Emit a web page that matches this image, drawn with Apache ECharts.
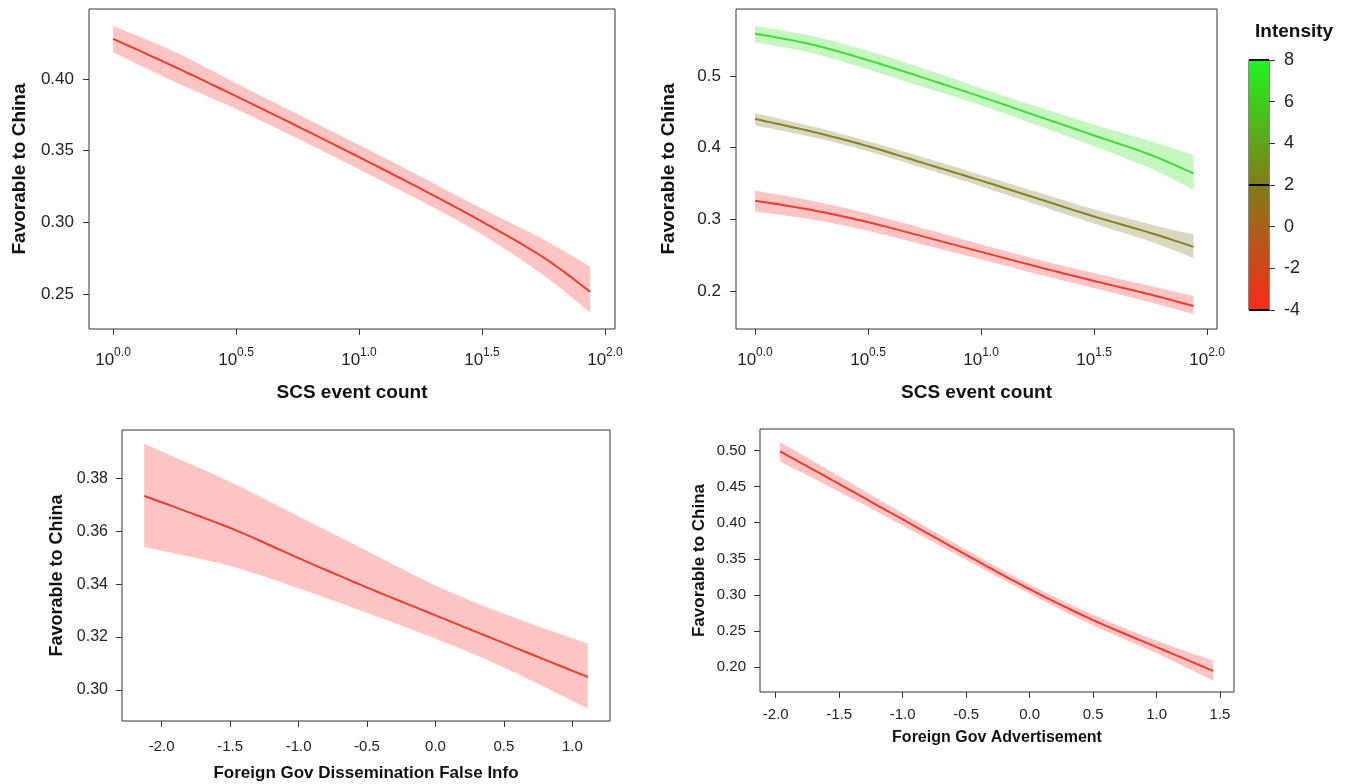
<!DOCTYPE html>
<html>
<head>
<meta charset="utf-8">
<script src="https://cdn.jsdelivr.net/npm/echarts@6/dist/echarts.min.js"></script>
<style>
  html, body { margin: 0; padding: 0; background: #fff; }
  #main { width: 1349px; height: 784px; }
</style>
</head>
<body>
<div id="main"></div>
<script>
// 上排：x 为 log10(SCS event count)
var scsLogX = [0, 0.25, 0.5, 0.75, 1.0, 1.25, 1.5, 1.75, 1.94];
var p1Fit   = [0.428, 0.4085, 0.388, 0.367, 0.3455, 0.3235, 0.3005, 0.2755, 0.2515];
var p1Upper = [0.437, 0.419, 0.397, 0.3755, 0.354, 0.332, 0.3095, 0.288, 0.269];
var p1Lower = [0.4186, 0.398, 0.379, 0.3585, 0.337, 0.315, 0.2915, 0.263, 0.237];

// 右上：三个 Intensity 水平
var intensityLevels = [8, 2, -4];
var greenFit   = [0.559, 0.544, 0.522, 0.497, 0.471, 0.444, 0.417, 0.390, 0.364];
var greenUpper = [0.570, 0.556, 0.535, 0.510, 0.483, 0.457, 0.432, 0.409, 0.390];
var greenLower = [0.547, 0.532, 0.509, 0.484, 0.459, 0.431, 0.402, 0.371, 0.341];
var oliveFit   = [0.440, 0.4225, 0.402, 0.378, 0.354, 0.329, 0.304, 0.281, 0.2616];
var oliveUpper = [0.448, 0.430, 0.409, 0.386, 0.362, 0.338, 0.314, 0.293, 0.279];
var oliveLower = [0.431, 0.415, 0.395, 0.371, 0.346, 0.320, 0.294, 0.269, 0.246];
var redFit   = [0.326, 0.313, 0.296, 0.2755, 0.2546, 0.2338, 0.214, 0.195, 0.179];
var redUpper = [0.340, 0.326, 0.308, 0.287, 0.265, 0.244, 0.225, 0.207, 0.193];
var redLower = [0.311, 0.300, 0.284, 0.264, 0.244, 0.2235, 0.204, 0.184, 0.168];

// 左下：Foreign Gov Dissemination False Info
var dissX     = [-2.128, -1.5, -1.0, -0.5, 0.0, 0.5, 1.113];
var dissFit   = [0.3733, 0.3612, 0.3498, 0.3387, 0.3282, 0.3177, 0.3049];
var dissUpper = [0.393, 0.3786, 0.3656, 0.3525, 0.3395, 0.3288, 0.3175];
var dissLower = [0.354, 0.3468, 0.3384, 0.3291, 0.3194, 0.3085, 0.293];

// 右下：Foreign Gov Advertisement
var advX     = [-1.967, -1.5, -1.0, -0.5, 0.0, 0.5, 1.0, 1.446];
var advFit   = [0.499, 0.4537, 0.4046, 0.3555, 0.3078, 0.265, 0.2276, 0.1945];
var advUpper = [0.512, 0.4645, 0.413, 0.3625, 0.3145, 0.2725, 0.2365, 0.209];
var advLower = [0.485, 0.443, 0.396, 0.3485, 0.3015, 0.2575, 0.219, 0.181];

// 刻度
var scsTicks  = [0, 0.5, 1.0, 1.5, 2.0];
var p1YTicks  = [0.25, 0.30, 0.35, 0.40];
var p2YTicks  = [0.2, 0.3, 0.4, 0.5];
var dissXTicks = [-2.0, -1.5, -1.0, -0.5, 0.0, 0.5, 1.0];
var dissYTicks = [0.30, 0.32, 0.34, 0.36, 0.38];
var advXTicks = [-2.0, -1.5, -1.0, -0.5, 0.0, 0.5, 1.0, 1.5];
var advYTicks = [0.20, 0.25, 0.30, 0.35, 0.40, 0.45, 0.50];

var FONT = 'Liberation Sans, Arial, sans-serif';
var INK = '#333';

// Catmull-Rom 插值（像素坐标），让曲线平滑
function spline(pts, n) {
    var out = [];
    for (var i = 0; i < pts.length - 1; i++) {
        var p0 = pts[Math.max(i - 1, 0)], p1 = pts[i], p2 = pts[i + 1], p3 = pts[Math.min(i + 2, pts.length - 1)];
        for (var k = 0; k < n; k++) {
            var t = k / n, t2 = t * t, t3 = t2 * t;
            out.push([0, 1].map(function (d) {
                return 0.5 * ((2 * p1[d]) + (-p0[d] + p2[d]) * t +
                    (2 * p0[d] - 5 * p1[d] + 4 * p2[d] - p3[d]) * t2 +
                    (-p0[d] + 3 * p1[d] - 3 * p2[d] + p3[d]) * t3);
            }));
        }
    }
    out.push(pts[pts.length - 1]);
    return out;
}

// 置信带 + 拟合线，都走坐标轴换算
function band(gi, xs, lo, hi, fit, lineColor, bandColor) {
    function edge(api, ys) {
        return spline(xs.map(function (x, i) { return api.coord([x, ys[i]]); }), 12);
    }
    return [{
        type: 'custom', xAxisIndex: gi, yAxisIndex: gi, silent: true, z: 1,
        data: [0],
        renderItem: function (params, api) {
            var pts = edge(api, hi).concat(edge(api, lo).reverse());
            return { type: 'polygon', shape: { points: pts }, style: { fill: bandColor } };
        }
    }, {
        type: 'custom', xAxisIndex: gi, yAxisIndex: gi, silent: true, z: 3,
        data: [0],
        renderItem: function (params, api) {
            return {
                type: 'polyline', shape: { points: edge(api, fit) },
                style: { stroke: lineColor, lineWidth: 2, fill: null }
            };
        }
    }];
}

function xAx(gi, min, max, ticks, fmt, fs, margin, name, nameSize, nameGap) {
    return {
        type: 'value', gridIndex: gi, min: min, max: max,
        axisLine: { show: false, onZero: false },
        splitLine: { show: false },
        axisTick: { show: true, length: 6, customValues: ticks, lineStyle: { color: INK } },
        axisLabel: {
            customValues: ticks, formatter: fmt, margin: margin,
            color: '#222', fontFamily: FONT, fontSize: fs,
            rich: {
                b: { fontSize: 17, fontFamily: FONT, color: '#222', verticalAlign: 'bottom', lineHeight: 22 },
                s: { fontSize: 12, fontFamily: FONT, color: '#222', verticalAlign: 'top', lineHeight: 22 }
            }
        },
        name: name, nameLocation: 'middle', nameGap: nameGap,
        nameTextStyle: { fontFamily: FONT, fontWeight: 'bold', fontSize: nameSize, color: '#111' }
    };
}

function yAx(gi, min, max, ticks, digits, fs, margin, nameSize, nameGap) {
    return {
        type: 'value', gridIndex: gi, min: min, max: max,
        axisLine: { show: false, onZero: false },
        splitLine: { show: false },
        axisTick: { show: true, length: 6, customValues: ticks, lineStyle: { color: INK } },
        axisLabel: {
            customValues: ticks, margin: margin, color: '#222', fontFamily: FONT, fontSize: fs,
            formatter: function (v) { return v.toFixed(digits); }
        },
        name: 'Favorable to China', nameLocation: 'middle', nameGap: nameGap,
        nameTextStyle: { fontFamily: FONT, fontWeight: 'bold', fontSize: nameSize, color: '#111' }
    };
}

var powFmt = function (v) { return '{b|10}{s|' + v.toFixed(1) + '}'; };
var decFmt = function (v) { return v.toFixed(1); };

var gridStyle = { show: true, borderColor: INK, borderWidth: 1, backgroundColor: 'transparent' };

var chart = echarts.init(document.getElementById('main'), null, { renderer: 'canvas' });
chart.setOption({
    animation: false,
    title: {
        text: 'Intensity', left: 1250, top: 17,
        textStyle: { fontFamily: FONT, fontWeight: 'bold', fontSize: 19, color: '#111' }
    },
    grid: [
        Object.assign({ left: 89, top: 9, width: 526, height: 320 }, gridStyle),
        Object.assign({ left: 736, top: 9, width: 481, height: 320 }, gridStyle),
        Object.assign({ left: 122, top: 430, width: 488, height: 291 }, gridStyle),
        Object.assign({ left: 760, top: 429, width: 474, height: 263 }, gridStyle),
        { show: true, left: 1249, top: 60, width: 20, height: 250, borderColor: '#111', borderWidth: 1, backgroundColor: 'transparent' }
    ],
    xAxis: [
        xAx(0, -0.0976, 2.0407, scsTicks, powFmt, 17, 18, 'SCS event count', 19, 54),
        xAx(1, -0.084, 2.044, scsTicks, powFmt, 17, 18, 'SCS event count', 19, 54),
        xAx(2, -2.29, 1.275, dissXTicks, decFmt, 15, 18, 'Foreign Gov Dissemination False Info', 17, 44),
        xAx(3, -2.124, 1.61, advXTicks, decFmt, 15, 15, 'Foreign Gov Advertisement', 16, 38),
        { type: 'value', gridIndex: 4, min: 0, max: 1, show: false }
    ],
    yAxis: [
        yAx(0, 0.2256, 0.4488, p1YTicks, 2, 17, 15, 19, 60),
        yAx(1, 0.147, 0.5934, p2YTicks, 1, 17, 15, 19, 58),
        yAx(2, 0.2883, 0.3982, dissYTicks, 2, 16, 14, 18, 56),
        yAx(3, 0.1653, 0.530, advYTicks, 2, 15, 14, 17, 52),
        {
            type: 'value', gridIndex: 4, min: -4, max: 8, interval: 2, position: 'right',
            axisLine: { show: false, onZero: false }, splitLine: { show: false },
            axisTick: { show: true, length: 6, lineStyle: { color: INK } },
            axisLabel: { margin: 15, color: '#222', fontFamily: FONT, fontSize: 18 }
        }
    ],
    series: [].concat(
        band(0, scsLogX, p1Lower, p1Upper, p1Fit, '#f03a2e', '#ffc4c4'),
        band(1, scsLogX, greenLower, greenUpper, greenFit, '#3fdc3a', '#c6f7c0'),
        band(1, scsLogX, oliveLower, oliveUpper, oliveFit, '#868226', '#d9d8c1'),
        band(1, scsLogX, redLower, redUpper, redFit, '#f03a2e', '#ffc4c4'),
        band(2, dissX, dissLower, dissUpper, dissFit, '#f03a2e', '#ffc4c4'),
        band(3, advX, advLower, advUpper, advFit, '#f03a2e', '#ffc4c4'),
        [{
            // 色条
            type: 'line', xAxisIndex: 4, yAxisIndex: 4,
            data: [[0, intensityLevels[0]], [1, intensityLevels[0]]],
            symbol: 'none', silent: true, lineStyle: { width: 0 },
            areaStyle: {
                origin: 'start', opacity: 1,
                color: {
                    type: 'linear', x: 0, y: 0, x2: 0, y2: 1,
                    colorStops: [
                        { offset: 0, color: '#1ff51f' },
                        { offset: 0.5, color: '#7f7d18' },
                        { offset: 1, color: '#fa2a18' }
                    ]
                }
            },
            markLine: {
                silent: true, symbol: 'none', label: { show: false },
                lineStyle: { color: '#000', width: 2, type: 'solid' },
                data: intensityLevels.map(function (v) { return { yAxis: v }; })
            }
        }]
    )
});
</script>
</body>
</html>
